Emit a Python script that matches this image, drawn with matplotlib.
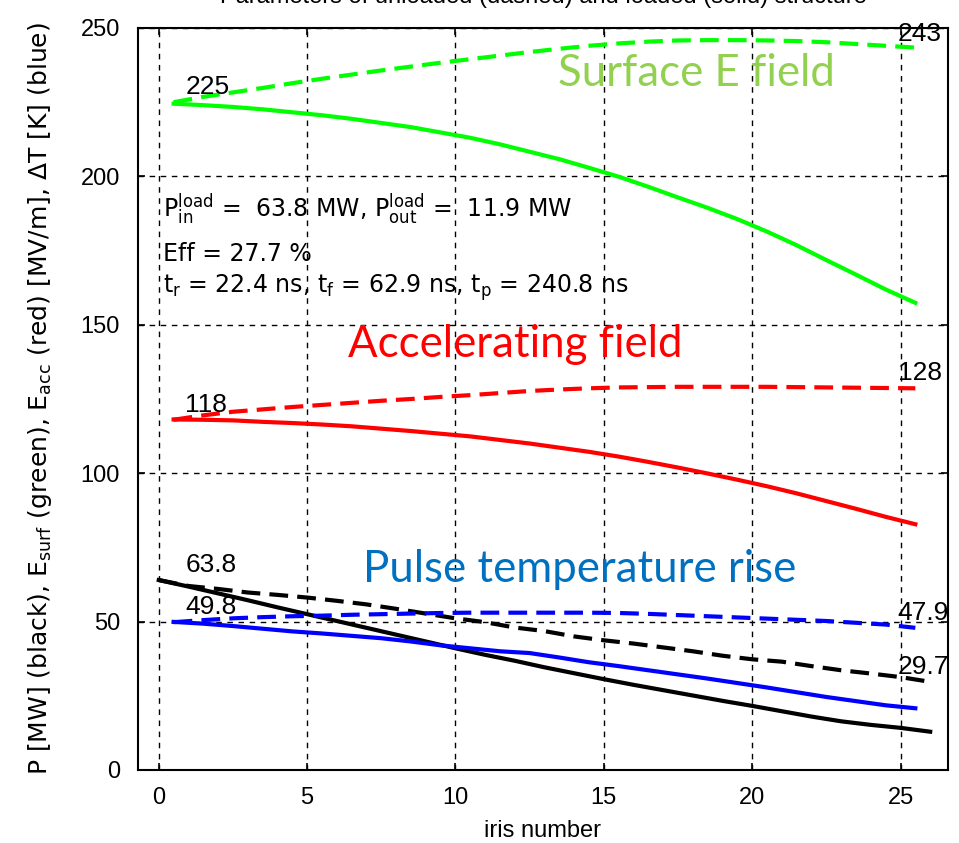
import matplotlib.pyplot as plt
import numpy as np

plt.rcParams['font.family'] = ['Liberation Sans', 'DejaVu Sans']
plt.rcParams['mathtext.default'] = 'regular'

# iris numbers: power at iris positions, fields at cell centres
iris_p = np.arange(0, 27)
iris_f = np.arange(0.5, 26, 1.0)

# power [MW] (black), solid = loaded, dashed = unloaded
p_loaded = [64.0, 61.8, 59.5, 57.2, 54.8, 52.5, 50.2, 47.9, 45.6, 43.3, 41.0, 38.8, 36.8, 34.6,
            32.6, 30.6, 28.7, 26.9, 25.1, 23.3, 21.6, 19.8, 18.0, 16.4, 15.2, 14.2, 12.9]
p_unloaded = [64.0, 62.0, 61.0, 59.8, 59.0, 58.1, 57.0, 55.8, 54.3, 52.7, 51.1, 49.8, 48.0, 46.8,
              45.0, 43.7, 42.6, 41.3, 40.0, 38.5, 37.3, 36.5, 35.0, 33.6, 32.5, 31.3, 29.7]

# pulse temperature rise [K] (blue)
dt_loaded = [49.9, 49.3, 48.5, 47.6, 46.7, 46.0, 45.2, 44.4, 43.3, 42.0, 41.0, 40.0, 39.4,
             37.9, 36.3, 35.0, 33.6, 32.2, 30.8, 29.3, 27.8, 26.2, 24.6, 23.2, 21.8, 20.8]
dt_unloaded = [49.8, 50.5, 51.1, 51.5, 51.8, 52.0, 52.3, 52.5, 52.7, 52.9, 53.0, 53.0, 53.0,
               53.0, 53.0, 52.9, 52.6, 52.2, 51.8, 51.4, 51.0, 50.6, 50.2, 49.6, 49.0, 47.9]

# accelerating field [MV/m] (red)
eacc_loaded = [118.1, 118.0, 117.8, 117.3, 116.9, 116.4, 115.8, 115.0, 114.2, 113.3, 112.4, 111.2, 110.0,
               108.6, 107.2, 105.6, 103.8, 101.9, 99.9, 97.8, 95.6, 93.2, 90.6, 88.0, 85.3, 82.8]
eacc_unloaded = [118.0, 119.5, 120.7, 121.5, 122.3, 123.0, 123.7, 124.4, 125.0, 125.7, 126.3, 127.0, 127.7,
                 128.2, 128.6, 128.9, 129.0, 129.1, 129.1, 129.1, 129.1, 129.0, 128.9, 128.8, 128.7, 128.6]

# surface field [MV/m] (green)
esurf_loaded = [224.5, 224.0, 223.4, 222.6, 221.6, 220.6, 219.4, 218.0, 216.6, 214.8, 213.0, 210.8, 208.3,
                205.8, 202.9, 199.9, 196.5, 192.9, 189.4, 185.6, 181.4, 176.8, 171.8, 166.9, 161.9, 157.4]
esurf_unloaded = [225.0, 226.8, 228.3, 229.8, 231.4, 232.9, 234.3, 235.7, 237.0, 238.3, 239.5, 240.7, 241.9,
                  243.0, 244.0, 244.8, 245.4, 245.8, 245.9, 245.9, 245.8, 245.6, 245.2, 244.6, 244.0, 243.4]

fig = plt.figure(figsize=(9.59, 8.43), dpi=100)
ax = fig.add_axes([0.1439, 0.0866, 0.8446, 0.8802])

lw = 3
dash = (0, (4.5, 2.2))
ax.plot(iris_f, esurf_unloaded, color='#00ff00', lw=lw, ls=dash)
ax.plot(iris_f, esurf_loaded, color='#00ff00', lw=lw)
ax.plot(iris_f, eacc_unloaded, color='#ff0000', lw=lw, ls=dash)
ax.plot(iris_f, eacc_loaded, color='#ff0000', lw=lw)
ax.plot(iris_p, p_unloaded, color='k', lw=lw, ls=dash)
ax.plot(iris_p, p_loaded, color='k', lw=lw)
ax.plot(iris_f, dt_unloaded, color='#0000ff', lw=lw, ls=dash)
ax.plot(iris_f, dt_loaded, color='#0000ff', lw=lw)

# value labels at first / last points
fs_num = 19
ax.text(iris_f[0] + 0.4, esurf_unloaded[0] + 1.0, '225', fontsize=fs_num, va='bottom')
ax.text(iris_f[-1] - 0.6, esurf_unloaded[-1] + 0.5, '243', fontsize=fs_num, va='bottom')
ax.text(iris_f[0] + 0.4, eacc_unloaded[0] + 1.0, '118', fontsize=fs_num, va='bottom')
ax.text(iris_f[-1] - 0.6, eacc_unloaded[-1] + 1.0, '128', fontsize=fs_num, va='bottom')
ax.text(iris_p[0] + 0.9, p_loaded[0] + 1.0, '63.8', fontsize=fs_num, va='bottom')
ax.text(iris_f[0] + 0.4, dt_loaded[0] + 1.0, '49.8', fontsize=fs_num, va='bottom')
ax.text(iris_f[-1] - 0.6, dt_unloaded[-1] + 1.0, '47.9', fontsize=fs_num, va='bottom')
ax.text(iris_p[-1] - 1.1, p_unloaded[-1] + 1.0, '29.7', fontsize=fs_num, va='bottom')

ax.text(0.15, 189, r'P$_{in}^{load}$ =  63.8 MW, P$_{out}^{load}$ =  11.9 MW',
        fontsize=17, family='DejaVu Sans', va='center')
ax.text(0.15, 174, 'Eff = 27.7 %', fontsize=17, family='DejaVu Sans', va='center')
ax.text(0.15, 162.5, r't$_r$ = 22.4 ns, t$_f$ = 62.9 ns, t$_p$ = 240.8 ns',
        fontsize=17, family='DejaVu Sans', va='center')

# overlay captions
ax.text(13.46, 234.5, 'Surface E field', color='#92d050', fontsize=31.5, family='Lato', va='center')
ax.text(6.38, 143.5, 'Accelerating field', color='#ff0000', fontsize=31.5, family='Lato', va='center')
ax.text(6.88, 67.7, 'Pulse temperature rise', color='#0070c0', fontsize=31.5, family='Lato', va='center')

ax.set_xlim(-0.7, 26.6)
ax.set_ylim(0, 250)
ax.set_xticks([0, 5, 10, 15, 20, 25])
ax.set_yticks([0, 50, 100, 150, 200, 250])
ax.tick_params(direction='in', labelsize=17, length=5, width=1.2, top=True, right=True)
ax.tick_params(axis='x', pad=12)
ax.tick_params(axis='y', pad=13)
ax.grid(True, color='k', ls=(0, (4, 4)), lw=1)
for s in ax.spines.values():
    s.set_linewidth(1.5)

ax.set_xlabel('iris number', fontsize=17, labelpad=8)
ax.set_ylabel(r'P [MW] (black), E$_{surf}$ (green), E$_{acc}$ (red) [MV/m], $\Delta$T [K] (blue)',
              fontsize=18, family='DejaVu Sans', labelpad=19)
fig.text(0.567, 1.004, 'Parameters of unloaded (dashed) and loaded (solid) structure', fontsize=17,
         ha='center', va='center')

fig.savefig('out.png', dpi=100)
